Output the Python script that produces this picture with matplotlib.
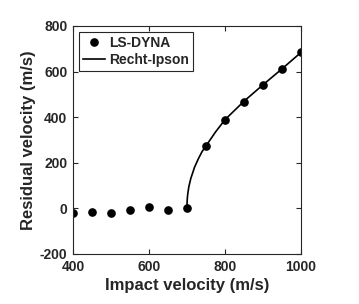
import matplotlib
matplotlib.use("Agg")
import matplotlib.pyplot as plt

plt.rcParams["font.family"] = ["Liberation Sans", "DejaVu Sans"]
plt.rcParams["font.weight"] = "bold"
plt.rcParams["axes.unicode_minus"] = False

# LS-DYNA simulation results
impact_v = [400, 450, 500, 550, 600, 650, 700, 750, 800, 850, 900, 950, 1000]
residual_v = [-19, -16, -22, -6, 6, -9, 0, 272, 389, 468, 540, 610, 684]

# Recht-Ipson curve
ri_impact = [700, 700.2, 700.5, 701, 702, 705, 710, 720, 730, 740, 750,
             775, 800, 850, 900, 950, 1000]
ri_residual = [0, 22, 33, 46, 63, 96, 131, 181, 218, 250, 274,
               335, 389, 470, 542, 612, 684]

DARK = "#262626"

fig = plt.figure(figsize=(3.59, 3.04), dpi=100)
ax = fig.add_axes([0.2033, 0.1645, 0.6351, 0.75])

ax.plot(impact_v, residual_v, "o", color="black", markersize=5.2,
        linestyle="none", label="LS-DYNA")
ax.plot(ri_impact, ri_residual, "-", color="black", linewidth=1.2,
        label="Recht-Ipson")

ax.set_xlim(400, 1000)
ax.set_ylim(-200, 800)
ax.set_xticks([400, 600, 800, 1000])
ax.set_yticks([-200, 0, 200, 400, 600, 800])
ax.tick_params(direction="in", top=True, right=True, length=3.5, width=0.8,
               labelsize=10, colors=DARK, pad=4)
for lbl in ax.get_xticklabels() + ax.get_yticklabels():
    lbl.set_fontweight("bold")
for sp in ax.spines.values():
    sp.set_color(DARK)
    sp.set_linewidth(0.8)

ax.set_xlabel("Impact velocity (m/s)", fontsize=12, fontweight="bold",
              color=DARK, labelpad=3)
ax.set_ylabel("Residual velocity (m/s)", fontsize=12, fontweight="bold",
              color=DARK, labelpad=3)

leg = ax.legend(loc="upper left", fontsize=10, frameon=True, fancybox=False,
                edgecolor=DARK, framealpha=1, borderpad=0.3, handlelength=1.6,
                handletextpad=0.3, borderaxespad=0.4, labelspacing=0.25)
leg.get_frame().set_linewidth(0.8)
for t in leg.get_texts():
    t.set_fontweight("bold")
    t.set_color(DARK)

fig.savefig("out.png", dpi=100)
